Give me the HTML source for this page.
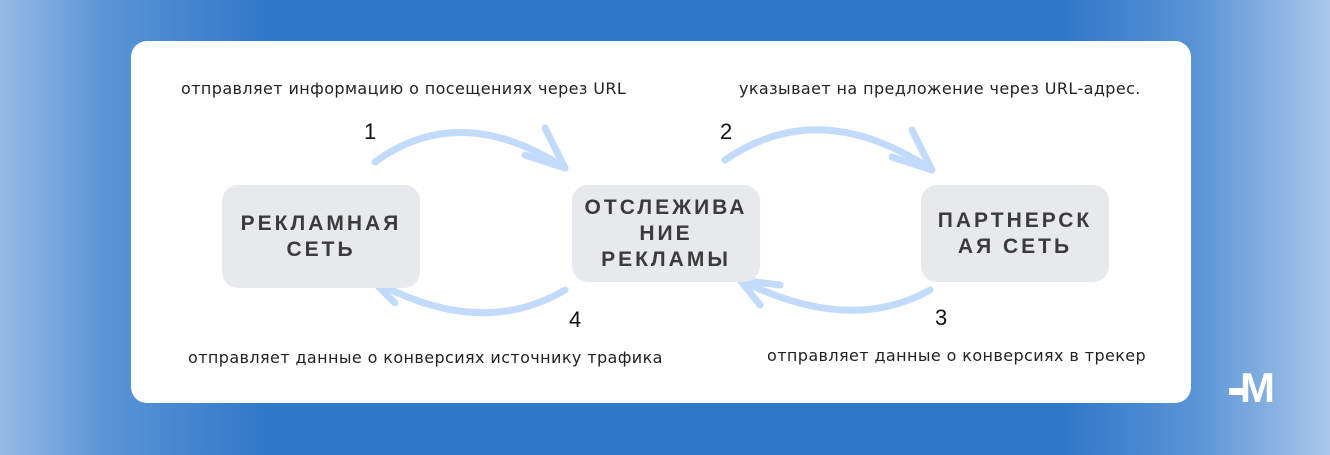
<!DOCTYPE html>
<html><head><meta charset="utf-8"><style>
body{margin:0;width:1330px;height:455px;overflow:hidden;font-family:"Liberation Sans",sans-serif;
background:linear-gradient(90deg,#95bbe4 0%,#5a94d6 8%,#3079c8 20%,#2f78c8 80%,#5a94d6 90%,#abc8ea 100%);position:relative}
.card{position:absolute;left:131px;top:41px;width:1060px;height:362px;background:#fff;border-radius:16px}
.box{position:absolute;background:#e8e9ec;border-radius:16px;display:flex;align-items:center;justify-content:center;text-align:center;font-weight:bold;font-size:21px;letter-spacing:3px;color:#3b3b3b;line-height:26px}
.t{position:absolute;font-family:"DejaVu Sans",sans-serif;font-size:16px;letter-spacing:0.4px;color:#222;white-space:nowrap}
.n{position:absolute;font-size:22px;color:#111}
svg{position:absolute;left:0;top:0}
</style></head><body>
<div class="card"></div>
<svg width="1330" height="455">
<g fill="none" stroke="#c3dbfa" stroke-width="7" stroke-linecap="round">
<path d="M375 162 Q460 100 565 168"/>
<path d="M565 168 L545 128 M565 168 L525 155"/>
<path d="M725 160 Q820 95 932 170"/>
<path d="M932 170 L912 130 M932 170 L892 157"/>
<path d="M930 290 Q850 335 740 280"/>
<path d="M740 280 L780 285 M740 280 L760 305"/>
<path d="M565 290 Q480 340 372 280"/>
<path d="M372 280 L410 283 M372 280 L395 303"/>
</g>
</svg>
<div class="box" style="left:222px;top:185px;width:198px;height:103px">РЕКЛАМНАЯ<br>СЕТЬ</div>
<div class="box" style="left:572px;top:185px;width:188px;height:97px">ОТСЛЕЖИВА<br>НИЕ<br>РЕКЛАМЫ</div>
<div class="box" style="left:921px;top:185px;width:188px;height:97px">ПАРТНЕРСК<br>АЯ СЕТЬ</div>
<div class="t" style="left:181px;top:79px">отправляет информацию о посещениях через URL</div>
<div class="t" style="left:739px;top:79px">указывает на предложение через URL-адрес.</div>
<div class="t" style="left:188px;top:348px">отправляет данные о конверсиях источнику трафика</div>
<div class="t" style="left:767px;top:346px">отправляет данные о конверсиях в трекер</div>
<div class="n" style="left:364px;top:119px">1</div>
<div class="n" style="left:720px;top:119px">2</div>
<div class="n" style="left:935px;top:305px">3</div>
<div class="n" style="left:569px;top:307px">4</div>
<div style="position:absolute;left:1240px;top:368px;color:#fff;font-weight:bold;font-size:42px;line-height:40px">M</div>
<div style="position:absolute;left:1229px;top:388px;width:18px;height:7px;background:#fff"></div>
</body></html>
